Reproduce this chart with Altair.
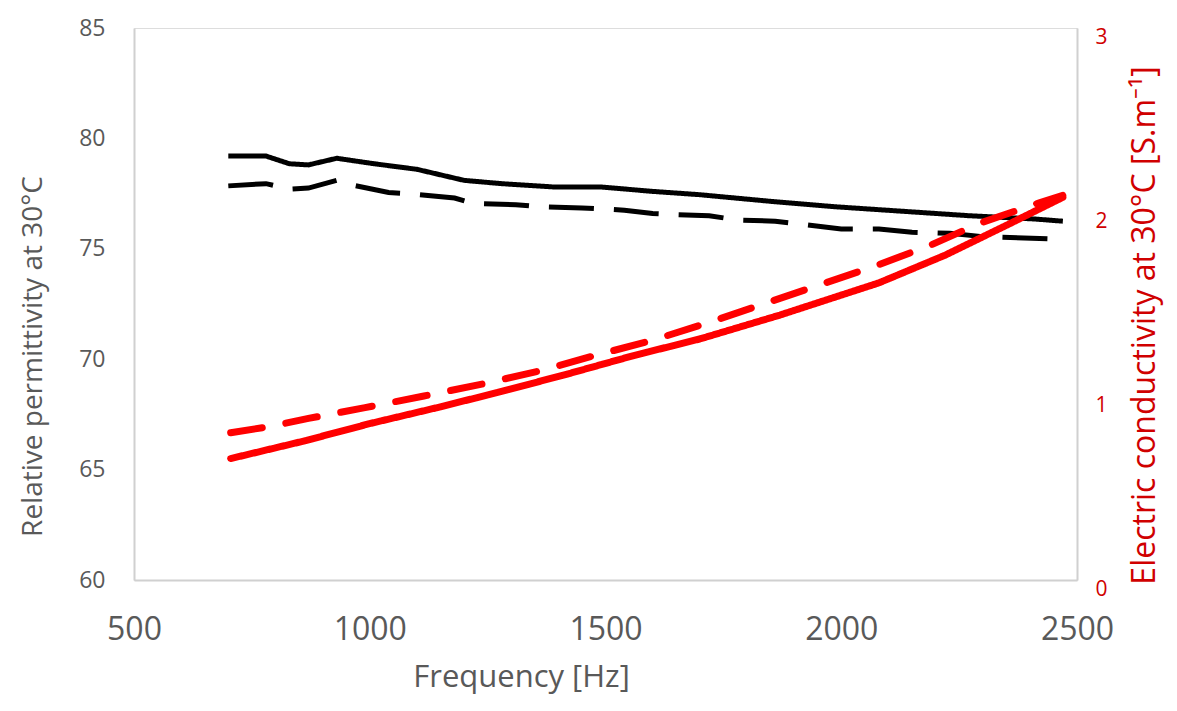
import altair as alt
import pandas as pd

# Relative permittivity (left axis)
freq_eps_solid = [700, 780, 830, 870, 930, 1010, 1100, 1200, 1280, 1390, 1490,
                  1600, 1700, 1850, 1990, 2130, 2270, 2410, 2470]
eps_solid = [79.2, 79.2, 78.85, 78.8, 79.1, 78.85, 78.6, 78.1, 77.95, 77.8, 77.8,
             77.6, 77.45, 77.15, 76.9, 76.7, 76.5, 76.35, 76.25]

freq_eps_dash = [700, 780, 830, 870, 930, 960, 1040, 1080, 1180, 1220, 1310, 1360,
                 1450, 1540, 1600, 1650, 1720, 1780, 1860, 1920, 2000, 2080, 2150,
                 2230, 2300, 2440]
eps_dash = [77.85, 77.95, 77.7, 77.75, 78.1, 77.9, 77.55, 77.5, 77.3, 77.05, 77.0, 76.9,
            76.85, 76.75, 76.6, 76.55, 76.5, 76.3, 76.25, 76.1, 75.9, 75.9, 75.75,
            75.7, 75.55, 75.45]

# Electric conductivity (right axis)
freq_sig_solid = [705, 860, 1000, 1140, 1280, 1420, 1560, 1700, 1870, 2080, 2220,
                  2360, 2470]
sig_solid = [0.66, 0.755, 0.85, 0.935, 1.025, 1.12, 1.22, 1.31, 1.44, 1.615, 1.765,
             1.94, 2.08]

freq_sig_dash = [705, 790, 870, 990, 1115, 1240, 1360, 1480, 1600, 1720, 1835, 1950,
                 2065, 2185, 2295, 2420, 2470]
sig_dash = [0.80, 0.835, 0.878, 0.937, 1.0, 1.066, 1.136, 1.222, 1.303, 1.40, 1.50,
            1.60, 1.70, 1.815, 1.94, 2.05, 2.09]

eps_df = pd.concat([
    pd.DataFrame({"freq": freq_eps_solid, "value": eps_solid, "series": "solid"}),
    pd.DataFrame({"freq": freq_eps_dash, "value": eps_dash, "series": "dashed"}),
])
sig_df = pd.concat([
    pd.DataFrame({"freq": freq_sig_solid, "value": sig_solid, "series": "solid"}),
    pd.DataFrame({"freq": freq_sig_dash, "value": sig_dash, "series": "dashed"}),
])

FONT = "Open Sans"
GREY = "#595959"
RED = "#d00000"
AXIS_LINE = "#d0d0d0"

x_enc = alt.X(
    "freq:Q",
    title="Frequency [Hz]",
    scale=alt.Scale(domain=[500, 2500], nice=False),
    axis=alt.Axis(
        values=[500, 1000, 1500, 2000, 2500], format="d", labelFlush=False,
        grid=False, ticks=False, domainColor=AXIS_LINE, domainWidth=2,
        labelFont=FONT, labelFontSize=32, labelColor=GREY, labelPadding=34,
        titleFont=FONT, titleFontSize=31, titleFontWeight="normal",
        titleColor=GREY, titleBaseline="top", titleX=387, titleY=82,
    ),
)

eps = alt.Chart(eps_df).mark_line(color="black", strokeWidth=5).encode(
    x=x_enc,
    y=alt.Y(
        "value:Q",
        title="Relative permittivity at 30°C",
        scale=alt.Scale(domain=[60, 85], nice=False, zero=False),
        axis=alt.Axis(
            orient="left", values=[60, 65, 70, 75, 80, 85],
            grid=False, ticks=False, domainColor=AXIS_LINE, domainWidth=2,
            labelFont=FONT, labelFontSize=23, labelColor=GREY, labelPadding=29,
            titleFont=FONT, titleFontSize=28, titleFontWeight="normal",
            titleColor=GREY, titleAngle=270, titleBaseline="bottom",
            titleX=-87, titleY=328,
        ),
    ),
    detail="series:N",
    strokeDash=alt.StrokeDash(
        "series:N",
        scale=alt.Scale(domain=["solid", "dashed"], range=[[1, 0], [45, 20]]),
        legend=None,
    ),
)

sig = alt.Chart(sig_df).mark_line(color="#ff0000", strokeWidth=7, strokeCap="round").encode(
    x=alt.X("freq:Q", scale=alt.Scale(domain=[500, 2500], nice=False)),
    y=alt.Y(
        "value:Q",
        title="Electric conductivity at 30°C [S.m⁻¹]",
        scale=alt.Scale(domain=[0, 3], nice=False),
        axis=alt.Axis(
            orient="right", values=[0, 1, 2, 3],
            grid=False, ticks=False, domainColor=AXIS_LINE, domainWidth=2,
            labelFont=FONT, labelFontSize=21, labelColor=RED, labelPadding=18,
            labelOffset=9,
            titleFont=FONT, titleFontSize=32, titleFontWeight="normal",
            titleColor=RED, titleAngle=270, titleBaseline="bottom",
            titleX=84, titleY=297,
        ),
    ),
    detail="series:N",
    strokeDash=alt.StrokeDash(
        "series:N",
        scale=alt.Scale(domain=["solid", "dashed"], range=[[1, 0], [32, 24]]),
        legend=None,
    ),
)

chart = (
    alt.layer(eps, sig)
    .resolve_scale(y="independent", strokeDash="independent")
    .properties(
        width=943,
        height=552,
        padding={"left": 126, "top": 20, "right": 90, "bottom": 122},
        autosize=alt.AutoSizeParams(type="none"),
    )
    .configure_view(stroke=None)
    .configure(background="white")
)

chart.save("out.html", embed_options={"renderer": "svg", "actions": False})
